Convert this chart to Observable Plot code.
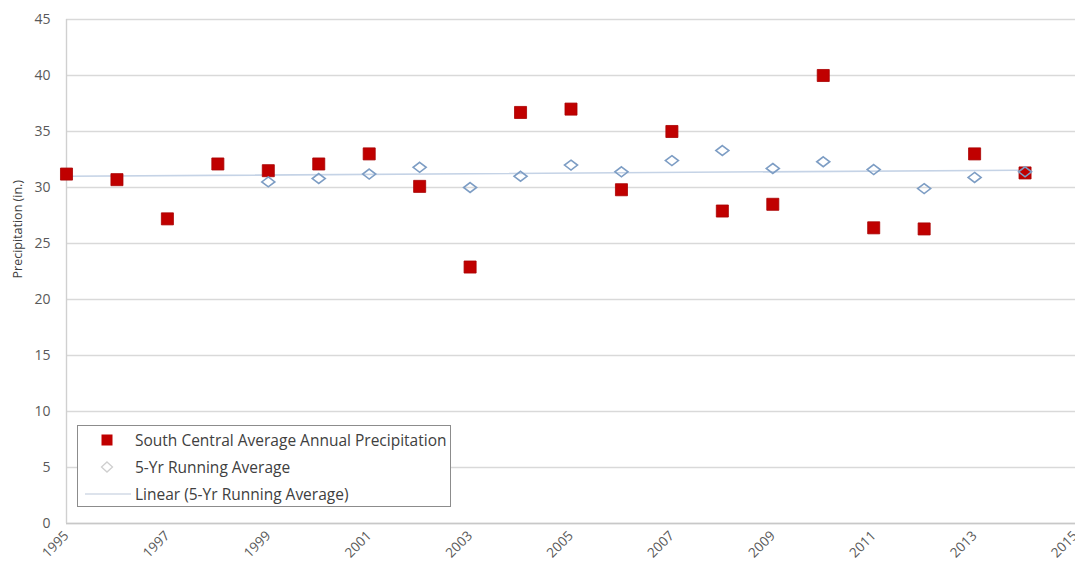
<!DOCTYPE html>
<html>
<head>
<meta charset="utf-8">
<script src="https://cdn.jsdelivr.net/npm/d3@7"></script>
<script src="https://cdn.jsdelivr.net/npm/@observablehq/plot@0.6"></script>
<style>
  html, body { margin: 0; padding: 0; background: #fff; }
  #wrap { position: relative; width: 1075px; height: 564px; overflow: hidden; font-family: "Open Sans", "Noto Sans", sans-serif; }
  #legend { position: absolute; left: 77px; top: 425px; width: 372px; height: 80px; border: 1.5px solid #8c8c8c; background: #fff; }
  .row { position: absolute; left: 0; height: 22px; width: 100%; font-size: 15.5px; color: #404040; }
  .row svg { position: absolute; left: 0; top: 1px; }
  .row span { position: absolute; left: 57px; top: 0; line-height: 22px; white-space: nowrap; }
</style>
</head>
<body>
<div id="wrap"></div>
<script>
// ---- data ----
const years = [1995, 1996, 1997, 1998, 1999, 2000, 2001, 2002, 2003, 2004, 2005, 2006, 2007, 2008, 2009, 2010, 2011, 2012, 2013, 2014];
const annualPrecip = [31.2, 30.7, 27.2, 32.1, 31.5, 32.1, 33.0, 30.1, 22.9, 36.7, 37.0, 29.8, 35.0, 27.9, 28.5, 40.0, 26.4, 26.3, 33.0, 31.3];
const avgYears = [1999, 2000, 2001, 2002, 2003, 2004, 2005, 2006, 2007, 2008, 2009, 2010, 2011, 2012, 2013, 2014];
const runningAvg = [30.5, 30.8, 31.2, 31.8, 30.0, 31.0, 32.0, 31.4, 32.4, 33.3, 31.7, 32.3, 31.6, 29.9, 30.9, 31.4];
const trendYears = [1995, 2014];
const trendValues = [31.0, 31.55];
const xTicks = [1995, 1997, 1999, 2001, 2003, 2005, 2007, 2009, 2011, 2013, 2015];
const yTicks = [0, 5, 10, 15, 20, 25, 30, 35, 40, 45];
const seriesNames = ["South Central Average Annual Precipitation", "5-Yr Running Average", "Linear (5-Yr Running Average)"];
const yLabel = "Precipitation (in.)";

const annual = years.map((y, i) => ({year: y, value: annualPrecip[i]}));
const avg = avgYears.map((y, i) => ({year: y, value: runningAvg[i]}));
const trend = trendYears.map((y, i) => ({year: y, value: trendValues[i]}));

const wideDiamond = {
  draw(context, size) {
    const r = Math.sqrt(size / Math.PI);
    const w = r * 1.05, h = r * 0.8;
    context.moveTo(0, -h);
    context.lineTo(w, 0);
    context.lineTo(0, h);
    context.lineTo(-w, 0);
    context.closePath();
  }
};

const chart = Plot.plot({
  width: 1075,
  height: 564,
  marginLeft: 66,
  marginRight: 0,
  marginTop: 19,
  marginBottom: 41,
  style: { fontFamily: "'Open Sans', 'Noto Sans', sans-serif", background: "#fff", overflow: "visible" },
  x: { domain: [1995, 2015] },
  y: { domain: [0, 45] },
  marks: [
    Plot.ruleY(yTicks, { stroke: "#d9d9d9", strokeWidth: 1.6 }),
    Plot.ruleY([0], { stroke: "#c8c8c8", strokeWidth: 1.6 }),
    Plot.ruleX([1995], { stroke: "#d0d0d0", strokeWidth: 1.4 }),
    Plot.axisY({ ticks: yTicks, tickSize: 0, tickPadding: 16, fontSize: 14, color: "#595959", label: null }),
    Plot.text([yLabel], { frameAnchor: "left", dx: -49, dy: 7, rotate: -90, fontSize: 12.5, fill: "#404040" }),
    Plot.axisX({ ticks: xTicks, tickSize: 0, tickPadding: 10, tickRotate: -45, fontSize: 13.5, color: "#595959", tickFormat: d => String(d), label: null }),
    Plot.line(trend, { x: "year", y: "value", stroke: "#c5d3e6", strokeWidth: 1.6 }),
    Plot.dot(annual, { x: "year", y: "value", symbol: "square", r: 6.8, fill: "#c00000", stroke: "#a80000", strokeWidth: 0.8 }),
    Plot.dot(avg, { x: "year", y: "value", symbol: wideDiamond, r: 6.2, fill: "none", stroke: "#7d9dc4", strokeWidth: 1.6 })
  ]
});

const wrap = document.getElementById("wrap");
wrap.appendChild(chart);

// legend
const legend = document.createElement("div");
legend.id = "legend";
const rows = [
  { top: 3, svg: `<svg width="56" height="20"><rect x="23.5" y="4.5" width="11" height="11" fill="#c00000"/></svg>` },
  { top: 30, svg: `<svg width="56" height="20"><path d="M29,5 L34.5,10 L29,15 L23.5,10 Z" fill="none" stroke="#cfcfcf" stroke-width="1.3"/></svg>` },
  { top: 57, svg: `<svg width="56" height="20"><line x1="7" y1="10" x2="53" y2="10" stroke="#d2dae6" stroke-width="1.6"/></svg>` }
];
rows.forEach((r, i) => {
  const d = document.createElement("div");
  d.className = "row";
  d.style.top = r.top + "px";
  d.innerHTML = r.svg + `<span>${seriesNames[i]}</span>`;
  legend.appendChild(d);
});
wrap.appendChild(legend);
</script>
</body>
</html>
